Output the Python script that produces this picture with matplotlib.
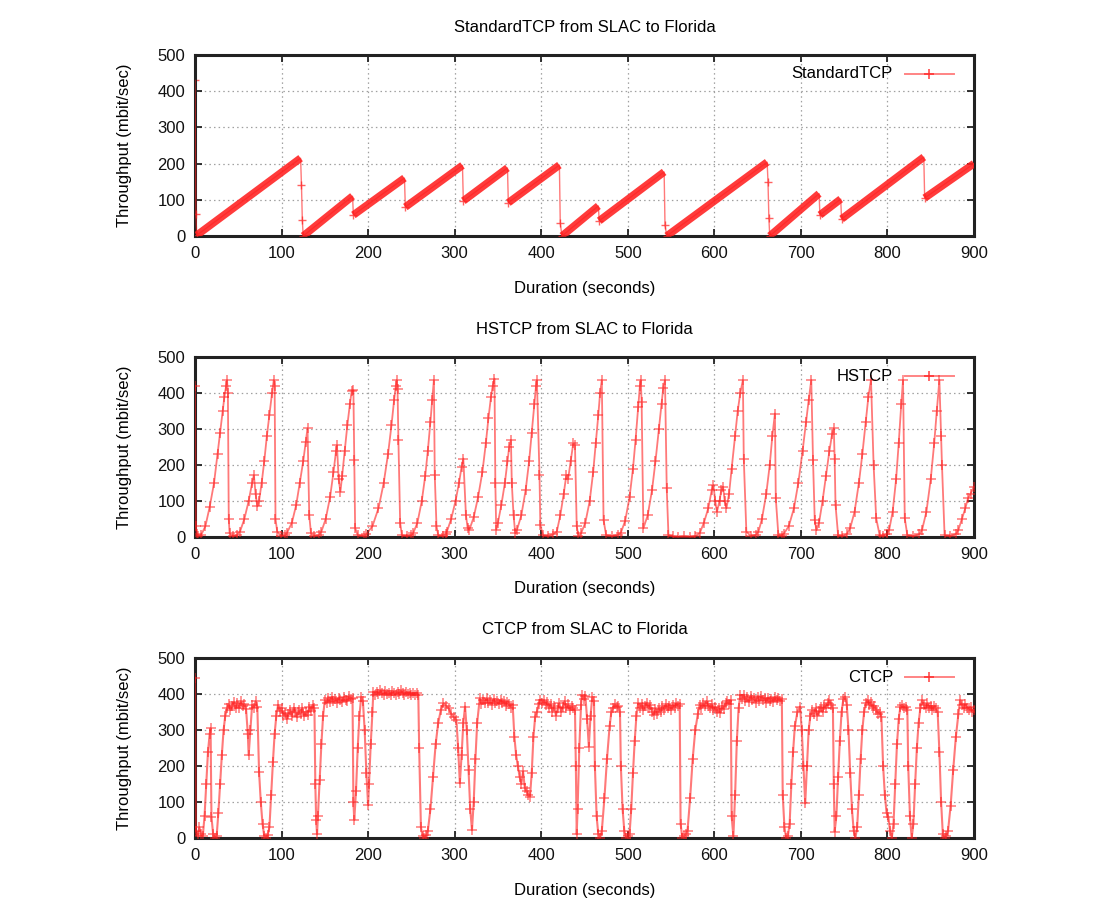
import numpy as np
import matplotlib
matplotlib.use("Agg")
import matplotlib.pyplot as plt
from matplotlib.lines import Line2D

plt.rcParams["font.family"] = ["Liberation Sans", "DejaVu Sans"]

# --------------------------------------------------------------------------
# text + axes
# --------------------------------------------------------------------------
TITLES = ["StandardTCP from SLAC to Florida",
          "HSTCP from SLAC to Florida",
          "CTCP from SLAC to Florida"]
NAMES = ["StandardTCP", "HSTCP", "CTCP"]
XLABEL = "Duration (seconds)"
YLABEL = "Throughput (mbit/sec)"
X_TICKS = [0, 100, 200, 300, 400, 500, 600, 700, 800, 900]
Y_TICKS = [0, 100, 200, 300, 400, 500]

# --------------------------------------------------------------------------
# series: (seconds, mbit/sec)
# --------------------------------------------------------------------------
STD_PTS = [
    (0, 430), (1, 60), (2, 2), (122, 215), (123, 141), (124, 44), (125, 0),
    (182, 110), (183, 58), (242, 160), (243, 80), (309, 195), (310, 97),
    (361, 188), (362, 92), (421, 196), (422, 35), (424, 0), (466, 83),
    (467, 42), (542, 177), (543, 30), (545, 0), (661, 204), (662, 150),
    (663, 50), (664, 0), (721, 117), (722, 58), (746, 102), (747, 47),
    (842, 218), (843, 105), (900, 200),
]

HS_PTS = [
    (0, 420), (1, 30), (2, 8), (4, 3), (7, 5),
    (12, 30), (17, 84), (22, 150), (26, 230), (29, 290), (32, 350), (34, 390),
    (36, 420), (37, 436), (38, 400), (39, 50), (40, 10), (44, 2), (48, 5),
    (52, 15), (57, 50), (62, 100), (66, 150), (68, 172), (70, 120), (72, 85),
    (74, 100), (77, 150), (80, 210), (83, 280), (86, 340), (89, 400), (91, 436),
    (92, 420), (93, 50), (95, 15), (99, 3), (104, 5),
    (106, 10), (112, 40), (117, 90), (121, 150), (125, 210), (128, 265),
    (130, 302), (132, 60), (134, 10), (138, 3), (143, 5),
    (146, 15), (151, 50), (156, 110), (160, 180), (163, 240), (164, 255),
    (166, 160), (168, 126), (170, 170), (173, 240), (176, 310), (179, 370),
    (181, 405), (183, 408), (184, 215), (185, 25), (188, 5), (195, 3),
    (198, 8), (205, 30), (212, 80), (218, 150), (223, 230), (227, 310),
    (230, 380), (232, 420), (233, 436), (234, 410), (235, 270), (237, 40),
    (239, 5), (245, 3), (250, 6),
    (252, 10), (257, 40), (262, 100), (266, 170), (269, 240), (272, 320),
    (274, 380), (276, 436), (277, 172), (279, 30), (281, 5), (286, 3), (290, 8),
    (291, 15), (296, 50), (301, 100), (305, 150), (308, 195), (310, 218),
    (313, 61), (315, 25),
    (317, 20), (322, 55), (327, 110), (332, 180), (336, 260), (339, 330),
    (342, 390), (344, 420), (346, 440), (347, 150), (348, 20),
    (350, 40), (354, 90), (358, 150), (361, 210), (363, 250), (365, 270),
    (366, 150), (368, 61), (370, 10),
    (372, 20), (377, 60), (382, 130), (386, 210), (389, 290), (392, 370),
    (394, 420), (395, 436), (398, 172), (399, 33), (402, 5), (408, 3), (414, 8),
    (418, 15), (422, 60), (426, 120), (429, 172), (431, 160), (434, 210),
    (437, 260), (439, 255), (441, 30), (443, 3),
    (446, 10), (451, 40), (456, 100), (460, 180), (463, 260), (466, 340),
    (468, 400), (470, 436), (472, 47), (475, 5), (482, 3), (489, 6),
    (492, 12), (497, 45), (502, 110), (506, 190), (509, 270), (512, 360),
    (514, 420), (515, 436), (516, 376), (518, 24),
    (523, 60), (528, 130), (532, 210), (536, 300), (539, 370), (541, 415),
    (543, 436), (545, 135), (547, 5), (552, 2), (558, 0), (565, 2), (572, 0),
    (578, 3), (583, 10),
    (588, 40), (593, 80), (597, 130), (599, 144), (601, 100), (603, 70),
    (606, 100), (608, 130), (610, 140), (612, 100), (614, 80), (617, 120),
    (620, 190), (624, 280), (627, 350), (630, 400), (633, 436), (634, 218),
    (637, 15), (642, 3), (648, 6),
    (651, 15), (655, 50), (660, 120), (664, 200), (667, 280), (670, 343),
    (671, 107), (674, 5), (678, 3),
    (680, 8), (686, 30), (692, 80), (697, 150), (702, 240), (706, 320),
    (709, 380), (712, 436), (714, 214), (716, 47), (718, 19),
    (721, 40), (725, 100), (729, 170), (733, 240), (736, 285), (738, 302),
    (739, 218), (740, 89), (743, 5), (748, 3), (753, 8),
    (757, 25), (762, 70), (767, 150), (771, 230), (775, 320), (778, 390),
    (781, 436), (784, 200), (787, 52), (791, 5), (795, 3), (799, 8),
    (802, 20), (806, 70), (810, 160), (813, 260), (816, 370), (818, 436),
    (820, 52), (823, 5), (830, 3), (837, 8),
    (840, 20), (845, 70), (850, 160), (854, 260), (857, 350), (860, 436),
    (862, 280), (863, 200), (866, 5), (872, 3), (879, 8),
    (882, 20), (886, 50), (890, 80), (893, 107), (896, 120), (900, 140),
]

CT_PTS = [
    (0, 445), (1, 20), (3, 5), (5, 30), (7, 10), (9, 5),
    (11, 60), (13, 150), (15, 240), (17, 290), (18, 305), (19, 59), (21, 10),
    (23, 0), (25, 5),
    (27, 70), (29, 150), (31, 230), (33, 300), (35, 340), (37, 360),
    (39, 372), (41, 355), (43, 368), (45, 378), (47, 360), (49, 374), (51, 362),
    (53, 380), (55, 366), (57, 372), (59, 358), (61, 290), (62, 230), (64, 300),
    (66, 370), (68, 362), (70, 380), (72, 365),
    (74, 184), (76, 100), (78, 40), (80, 5), (82, 0), (84, 8), (86, 30),
    (88, 120), (90, 210), (92, 290), (94, 340), (96, 370),
    (98, 352), (100, 362), (102, 340), (104, 348), (106, 330), (108, 345),
    (110, 356), (112, 338), (114, 362), (116, 350), (118, 335), (120, 355),
    (122, 345), (124, 362), (126, 338), (128, 350), (130, 342), (132, 365),
    (134, 352), (136, 370), (138, 360),
    (139, 150), (140, 50), (141, 10), (142, 60),
    (144, 160), (146, 260), (148, 340), (150, 383),
    (152, 375), (154, 388), (156, 378), (158, 392), (160, 380), (162, 386),
    (164, 376), (166, 390), (168, 382), (170, 378), (172, 392), (174, 384),
    (176, 380), (178, 394), (180, 386), (182, 390),
    (183, 100), (184, 50), (186, 130), (188, 250), (190, 340), (192, 392),
    (194, 380), (196, 300), (198, 180), (200, 92), (201, 150), (203, 260),
    (205, 350), (206, 405),
    (208, 398), (210, 406), (212, 400), (214, 410), (216, 402), (218, 398),
    (220, 408), (222, 400), (224, 404), (226, 396), (228, 408), (230, 402),
    (232, 398), (234, 406), (236, 400), (238, 410), (240, 402), (242, 398),
    (244, 406), (246, 400), (248, 404), (250, 396), (252, 402), (254, 398),
    (256, 404), (258, 396),
    (259, 249), (261, 30), (263, 5), (265, 0), (267, 8), (269, 20),
    (272, 80), (275, 170), (278, 260), (281, 320), (284, 355), (287, 374),
    (290, 368), (293, 360), (296, 345), (299, 335), (302, 328),
    (304, 250), (306, 152), (308, 230), (310, 320), (312, 365), (314, 300),
    (316, 190), (318, 80), (320, 22), (322, 100), (324, 220), (326, 320),
    (329, 388),
    (331, 372), (333, 384), (335, 376), (337, 388), (339, 374), (341, 382),
    (343, 370), (345, 386), (347, 376), (349, 380), (351, 372), (353, 384),
    (355, 375), (357, 380), (359, 368), (361, 378), (363, 372), (365, 362),
    (367, 370),
    (369, 281), (371, 230), (373, 200), (375, 170), (377, 150), (379, 185),
    (381, 140), (383, 130), (385, 120), (387, 115), (389, 180), (391, 280),
    (393, 337),
    (395, 350), (397, 372), (399, 384), (401, 376), (403, 382), (405, 370),
    (407, 378), (409, 360), (411, 372), (413, 350), (415, 368), (417, 340),
    (419, 360), (421, 374), (423, 350), (425, 365), (427, 380), (429, 360),
    (431, 372), (433, 355), (435, 366), (437, 360), (439, 355),
    (440, 200), (441, 10), (442, 80), (444, 250), (446, 370), (447, 397),
    (449, 385), (451, 395), (453, 330), (455, 254), (457, 340), (459, 392),
    (461, 380),
    (462, 200), (464, 60), (466, 10), (468, 0), (470, 20),
    (473, 110), (476, 220), (479, 310), (481, 350), (483, 360), (485, 372),
    (487, 365), (489, 368), (491, 350),
    (492, 200), (494, 80), (496, 20), (498, 0), (500, 5), (502, 10),
    (504, 80), (506, 180), (508, 270), (510, 340), (512, 374),
    (514, 360), (516, 372), (518, 355), (520, 368), (522, 376), (524, 360),
    (526, 370), (528, 350), (530, 342), (532, 358), (534, 345), (536, 362),
    (538, 350), (540, 366), (542, 356), (544, 372), (546, 360), (548, 368),
    (550, 355), (552, 370), (554, 362), (556, 374), (558, 366), (560, 372),
    (561, 40), (563, 0), (565, 5), (567, 10), (569, 20),
    (572, 110), (575, 220), (578, 300), (581, 345), (583, 370),
    (585, 360), (587, 374), (589, 366), (591, 380), (593, 368), (595, 360),
    (597, 372), (599, 355), (601, 365), (603, 350), (605, 360), (607, 348),
    (609, 368), (611, 358), (613, 374), (615, 380), (617, 372), (619, 383),
    (620, 60), (622, 5), (624, 120), (626, 270), (628, 360), (630, 397),
    (632, 385), (634, 398), (636, 380), (638, 392), (640, 378), (642, 395),
    (644, 384), (646, 390), (648, 376), (650, 392), (652, 380), (654, 394),
    (656, 382), (658, 388), (660, 376), (662, 390), (664, 380), (666, 386),
    (668, 378), (670, 392), (672, 382), (674, 388), (676, 380), (678, 385),
    (679, 120), (681, 30), (683, 0), (685, 5), (687, 40),
    (689, 150), (691, 240), (693, 310), (696, 350), (699, 365),
    (701, 300), (703, 200), (705, 96), (707, 200), (709, 300), (711, 340),
    (713, 355),
    (715, 345), (717, 360), (719, 340), (721, 352), (723, 365), (725, 350),
    (727, 370), (729, 360), (731, 375), (733, 382), (735, 370), (737, 360),
    (738, 150), (739, 18), (741, 60), (743, 170), (745, 270), (747, 350),
    (749, 385), (751, 393), (753, 370), (755, 300),
    (757, 180), (759, 80), (761, 20), (763, 0), (765, 30),
    (767, 120), (769, 220), (771, 300), (773, 350), (775, 375), (777, 383),
    (779, 370), (781, 378), (783, 360), (785, 368), (787, 355), (789, 345),
    (791, 350), (793, 337),
    (795, 200), (797, 120), (799, 70), (801, 59), (803, 20), (805, 0), (807, 40),
    (809, 150), (811, 260), (813, 330), (815, 365), (817, 370), (819, 360),
    (821, 365), (823, 355),
    (824, 200), (826, 60), (828, 0), (830, 40),
    (832, 150), (834, 250), (836, 320), (838, 360), (840, 383), (842, 370),
    (844, 360), (846, 374), (848, 362), (850, 368), (852, 355), (854, 366),
    (856, 360), (858, 350),
    (860, 240), (862, 100), (864, 10), (866, 0), (868, 5), (870, 20),
    (873, 90), (876, 190), (879, 280), (882, 345), (884, 383),
    (886, 370), (888, 360), (890, 372), (892, 362), (894, 356), (896, 364),
    (898, 350), (900, 355),
]

RED = "#ff2020"

# axes boxes in pixels of the 1096x924 canvas: (top, height)
FIG_W, FIG_H = 1096, 924
AX_LEFT_PX, AX_W_PX = 195, 779
PANELS_PX = [(55, 181), (357, 180), (658, 180)]


def style_axes(ax, title, name, h_px):
    ax.set_xlim(0, 900)
    ax.set_ylim(0, 500)
    ax.set_xticks(X_TICKS)
    ax.set_yticks(Y_TICKS)
    ax.tick_params(direction="in", top=True, right=True, length=5,
                   width=1.2, labelsize=12, pad=7, colors="#111111")
    ax.grid(color="#a0a0a0", linestyle=(0, (1.2, 2.5)), linewidth=0.9)
    ax.set_axisbelow(True)
    for sp in ax.spines.values():
        sp.set_linewidth(2.2)
        sp.set_color("#222222")

    ax.set_xlabel(XLABEL, fontsize=12, va="center")
    ax.xaxis.set_label_coords(0.5, -52 / h_px)
    ax.set_ylabel(YLABEL, fontsize=12, va="center")
    ax.yaxis.set_label_coords(-70 / AX_W_PX, 0.5)
    ax.text(0.5, 1 + 28 / h_px, title, transform=ax.transAxes,
            ha="center", va="center", fontsize=12)

    # gnuplot style key: text then sample line with one marker
    ky = 1 - 19 / h_px
    ax.text(0.896, ky, name, transform=ax.transAxes,
            ha="right", va="center", fontsize=12)
    ax.add_line(Line2D([0.911, 0.974], [ky, ky], transform=ax.transAxes,
                       color=RED, lw=1.4, alpha=0.55))
    ax.add_line(Line2D([0.9425], [ky], transform=ax.transAxes,
                       color=RED, marker="+", ms=7, mew=1.2, alpha=0.8))


fig = plt.figure(figsize=(FIG_W / 100, FIG_H / 100), dpi=100)
axes = []
for top, h in PANELS_PX:
    axes.append(fig.add_axes([AX_LEFT_PX / FIG_W, 1 - (top + h) / FIG_H,
                              AX_W_PX / FIG_W, h / FIG_H]))

# --- StandardTCP: long dense ramps look like a thick band ---
ax = axes[0]
st = np.array([p[0] for p in STD_PTS], dtype=float)
sv = np.array([p[1] for p in STD_PTS], dtype=float)
ax.plot(st, sv, color=RED, lw=1.0, alpha=0.6, zorder=3)
for i in range(len(st) - 1):
    if st[i + 1] - st[i] > 5:
        ax.plot(st[i:i + 2], sv[i:i + 2], color=RED, lw=5.5,
                solid_capstyle="butt", alpha=0.88, zorder=4)
    else:
        ax.plot(st[i + 1], sv[i + 1], color=RED, marker="+", ms=6,
                mew=1.0, alpha=0.7, zorder=4)
ax.plot(st[0], sv[0], color=RED, marker="+", ms=6, mew=1.0, alpha=0.7)
style_axes(ax, TITLES[0], NAMES[0], PANELS_PX[0][1])

# --- HSTCP ---
ax = axes[1]
ht = [p[0] for p in HS_PTS]
hv = [p[1] for p in HS_PTS]
ax.plot(ht, hv, color=RED, lw=1.3, alpha=0.6, marker="+", ms=7, mew=1.1,
        zorder=3)
style_axes(ax, TITLES[1], NAMES[1], PANELS_PX[1][1])

# --- CTCP ---
ax = axes[2]
ct = [p[0] for p in CT_PTS]
cv = [p[1] for p in CT_PTS]
ax.plot(ct, cv, color=RED, lw=1.5, alpha=0.6, marker="+", ms=7, mew=1.1,
        zorder=3)
style_axes(ax, TITLES[2], NAMES[2], PANELS_PX[2][1])

fig.savefig("out.png", dpi=100)
